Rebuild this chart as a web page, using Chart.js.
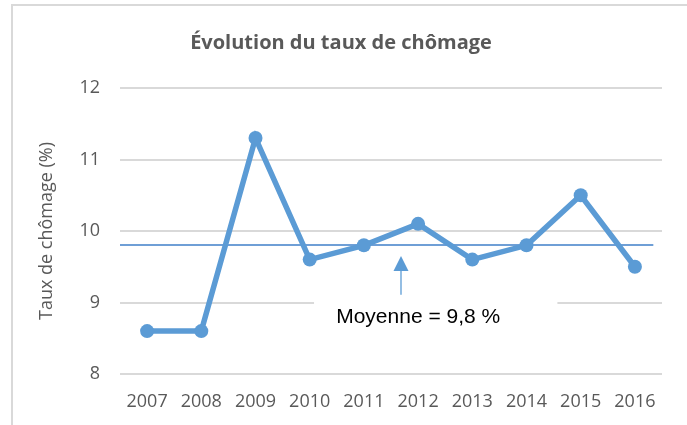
<!DOCTYPE html>
<html>
<head>
<meta charset="utf-8">
<script src="https://cdn.jsdelivr.net/npm/chart.js@4"></script>
<style>
  html, body { margin: 0; padding: 0; background: #fff; }
  #wrap { position: absolute; left: 0; top: 0; width: 687px; height: 425px; }
</style>
</head>
<body>
<div id="wrap"><canvas id="graph" width="687" height="425"></canvas></div>
<script>
// DATA
const years = ['2007', '2008', '2009', '2010', '2011', '2012', '2013', '2014', '2015', '2016'];
const rates = [8.6, 8.6, 11.3, 9.6, 9.8, 10.1, 9.6, 9.8, 10.5, 9.5];
const meanRate = 9.8;
const meanLabel = 'Moyenne = 9,8 %';
const yMin = 8, yMax = 12, yStep = 1;

const blue = '#5B9BD5';
const grey = '#595959';
const gridGrey = '#D9D9D9';

// frame + mean line + arrow + label
const extras = {
  id: 'extras',
  beforeDraw(chart) {
    const ctx = chart.ctx;
    ctx.save();
    ctx.strokeStyle = gridGrey;
    ctx.lineWidth = 2;
    ctx.strokeRect(12, 5, 700, 440);
    ctx.restore();
  },
  beforeDatasetsDraw(chart) {
    const { ctx, chartArea, scales: { x, y } } = chart;
    ctx.save();

    // label box hides the grid line behind it
    const bx1 = x.getPixelForValue(3.08), bx2 = x.getPixelForValue(7.57);
    const by1 = y.getPixelForValue(9.1), by2 = y.getPixelForValue(8.45);
    ctx.fillStyle = '#fff';
    ctx.fillRect(bx1, by1, bx2 - bx1, by2 - by1);

    // mean line
    const my = Math.round(y.getPixelForValue(meanRate));
    ctx.strokeStyle = '#3F7FC8';
    ctx.lineWidth = 1.5;
    ctx.beginPath();
    ctx.moveTo(chartArea.left, my);
    ctx.lineTo(x.getPixelForValue(9.34), my);
    ctx.stroke();

    // arrow
    const ax = Math.round(x.getPixelForValue(4.68));
    const tip = y.getPixelForValue(9.65);
    const headBase = tip + 15;
    const tail = y.getPixelForValue(9.11);
    ctx.strokeStyle = blue;
    ctx.lineWidth = 1.3;
    ctx.beginPath();
    ctx.moveTo(ax, headBase);
    ctx.lineTo(ax, tail);
    ctx.stroke();
    ctx.fillStyle = blue;
    ctx.beginPath();
    ctx.moveTo(ax, tip);
    ctx.lineTo(ax - 7.5, headBase);
    ctx.lineTo(ax + 7.5, headBase);
    ctx.closePath();
    ctx.fill();

    // label
    ctx.fillStyle = '#000';
    ctx.font = '21px "Liberation Sans", Arial, sans-serif';
    ctx.textAlign = 'center';
    ctx.textBaseline = 'alphabetic';
    ctx.fillText(meanLabel, (x.getPixelForValue(4) + x.getPixelForValue(7)) / 2 - 27, y.getPixelForValue(8.71));

    ctx.restore();
  }
};

const graph = document.getElementById('graph');

let myChart = new Chart(graph, {
  type: 'line',
  data: {
    labels: years,
    datasets: [{
      data: rates,
      borderColor: blue,
      backgroundColor: blue,
      borderWidth: 5.5,
      pointRadius: 7,
      pointBorderWidth: 0,
      pointBackgroundColor: blue,
      fill: false,
      tension: 0
    }]
  },
  options: {
    responsive: false,
    animation: false,
    devicePixelRatio: 1,
    layout: { padding: { left: 20, right: 25, top: 0, bottom: 0 } },
    plugins: {
      legend: { display: false },
      tooltip: { enabled: false },
      title: {
        display: true,
        text: 'Évolution du taux de chômage',
        color: grey,
        font: { family: '"Open Sans", sans-serif', size: 20, weight: 'bold' },
        padding: { top: 31, bottom: 33 }
      }
    },
    scales: {
      x: {
        offset: true,
        grid: { display: false, drawTicks: false },
        border: { display: false },
        ticks: { color: grey, font: { family: '"Open Sans", sans-serif', size: 18 }, padding: 17, maxRotation: 0 },
        afterFit: s => { s.height = 51; }
      },
      y: {
        min: yMin,
        max: yMax,
        ticks: { stepSize: yStep, color: grey, font: { family: '"Open Sans", sans-serif', size: 18 }, padding: 20 },
        grid: { color: gridGrey, lineWidth: 2, drawTicks: false },
        border: { display: false },
        title: {
          display: true,
          text: 'Taux de chômage (%)',
          color: grey,
          font: { family: '"Open Sans", sans-serif', size: 18 },
          padding: { top: 16, bottom: 0 }
        },
        afterFit: s => { s.width = 100; }
      }
    }
  },
  plugins: [extras]
});
</script>
</body>
</html>
